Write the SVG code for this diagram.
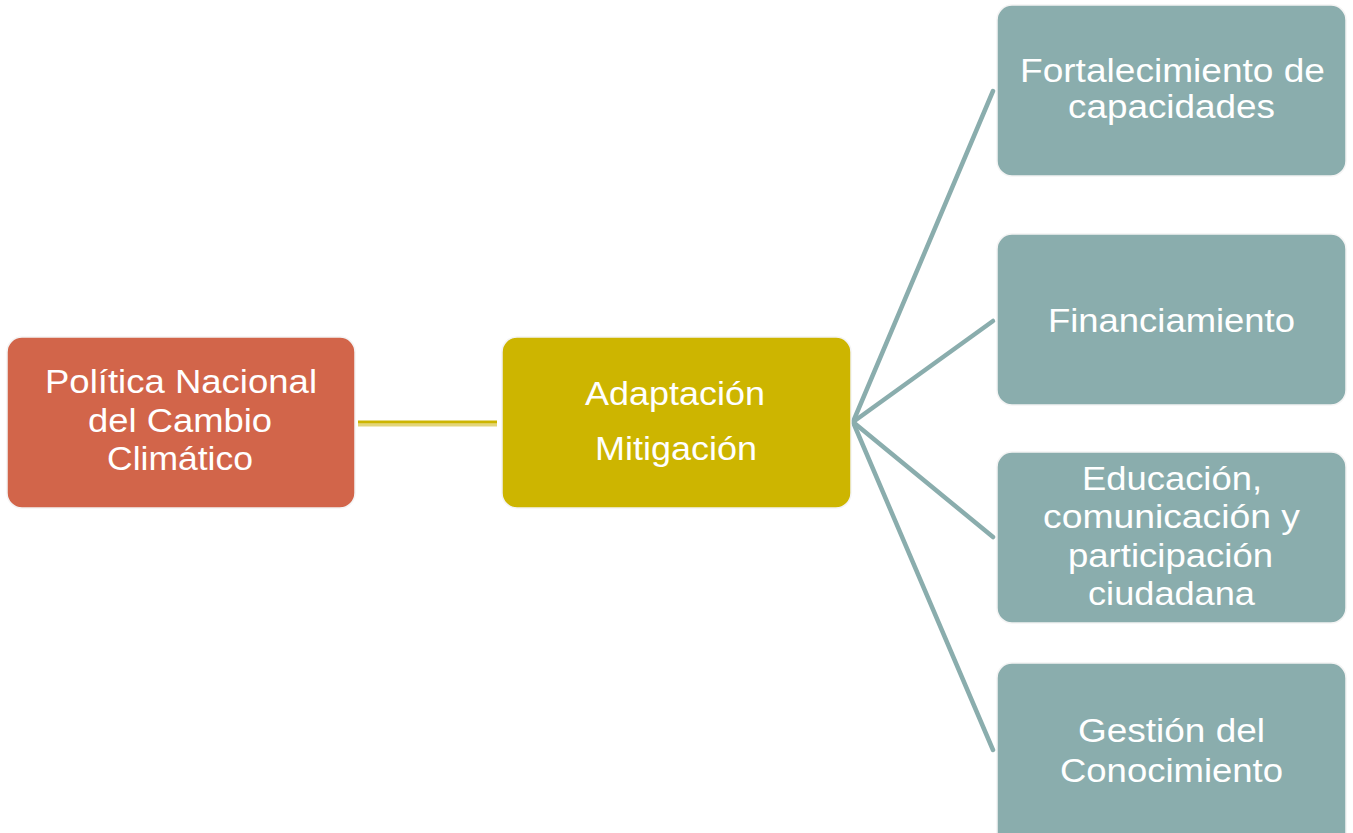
<svg xmlns="http://www.w3.org/2000/svg" width="1353" height="833" viewBox="0 0 1353 833">
<style>
.box{stroke:#f4f4f4;stroke-width:1.5}
.root{fill:#D2654A}
.mid{fill:#CDB500}
.leaf{fill:#8AADAD}
.t{font-family:"Liberation Sans",Arial,sans-serif;font-size:33px;fill:#ffffff}
.tl{stroke:#8AADAD;stroke-width:4.5;fill:none;stroke-linecap:round}
</style>
<rect width="1353" height="833" fill="#ffffff"/>
<g id="connectors">
<line x1="358" y1="425" x2="497" y2="425" stroke="#E3D57A" stroke-width="3"/>
<line x1="358" y1="422" x2="497" y2="422" stroke="#CDB500" stroke-width="3"/>
<line class="tl" x1="853" y1="422" x2="993" y2="91"/>
<line class="tl" x1="853" y1="422" x2="993" y2="321"/>
<line class="tl" x1="853" y1="422" x2="993" y2="537"/>
<line class="tl" x1="853" y1="422" x2="993" y2="750"/>
</g>
<g id="node-politica">
<rect class="box root" x="7" y="337" width="348" height="171" rx="15"/>
<text class="t" x="45" y="393" textLength="272" lengthAdjust="spacingAndGlyphs">Política Nacional</text>
<text class="t" x="88" y="432" textLength="184" lengthAdjust="spacingAndGlyphs">del Cambio</text>
<text class="t" x="107" y="470" textLength="146" lengthAdjust="spacingAndGlyphs">Climático</text>
</g>
<g id="node-adaptacion">
<rect class="box mid" x="502" y="337" width="349" height="171" rx="15"/>
<text class="t" x="585" y="405" textLength="180" lengthAdjust="spacingAndGlyphs">Adaptación</text>
<text class="t" x="595" y="460" textLength="162" lengthAdjust="spacingAndGlyphs">Mitigación</text>
</g>
<g id="node-fortalecimiento">
<rect class="box leaf" x="997" y="5" width="349" height="171" rx="15"/>
<text class="t" x="1020" y="82" textLength="305" lengthAdjust="spacingAndGlyphs">Fortalecimiento de</text>
<text class="t" x="1068" y="118" textLength="207" lengthAdjust="spacingAndGlyphs">capacidades</text>
</g>
<g id="node-financiamiento">
<rect class="box leaf" x="997" y="234" width="349" height="171" rx="15"/>
<text class="t" x="1048" y="332" textLength="247" lengthAdjust="spacingAndGlyphs">Financiamiento</text>
</g>
<g id="node-educacion">
<rect class="box leaf" x="997" y="452" width="349" height="171" rx="15"/>
<text class="t" x="1082" y="490" textLength="180" lengthAdjust="spacingAndGlyphs">Educación,</text>
<text class="t" x="1043" y="528" textLength="257" lengthAdjust="spacingAndGlyphs">comunicación y</text>
<text class="t" x="1068" y="567" textLength="205" lengthAdjust="spacingAndGlyphs">participación</text>
<text class="t" x="1088" y="605" textLength="167" lengthAdjust="spacingAndGlyphs">ciudadana</text>
</g>
<g id="node-gestion">
<rect class="box leaf" x="997" y="663" width="349" height="190" rx="15"/>
<text class="t" x="1078" y="742" textLength="187" lengthAdjust="spacingAndGlyphs">Gestión del</text>
<text class="t" x="1060" y="782" textLength="223" lengthAdjust="spacingAndGlyphs">Conocimiento</text>
</g>
</svg>
